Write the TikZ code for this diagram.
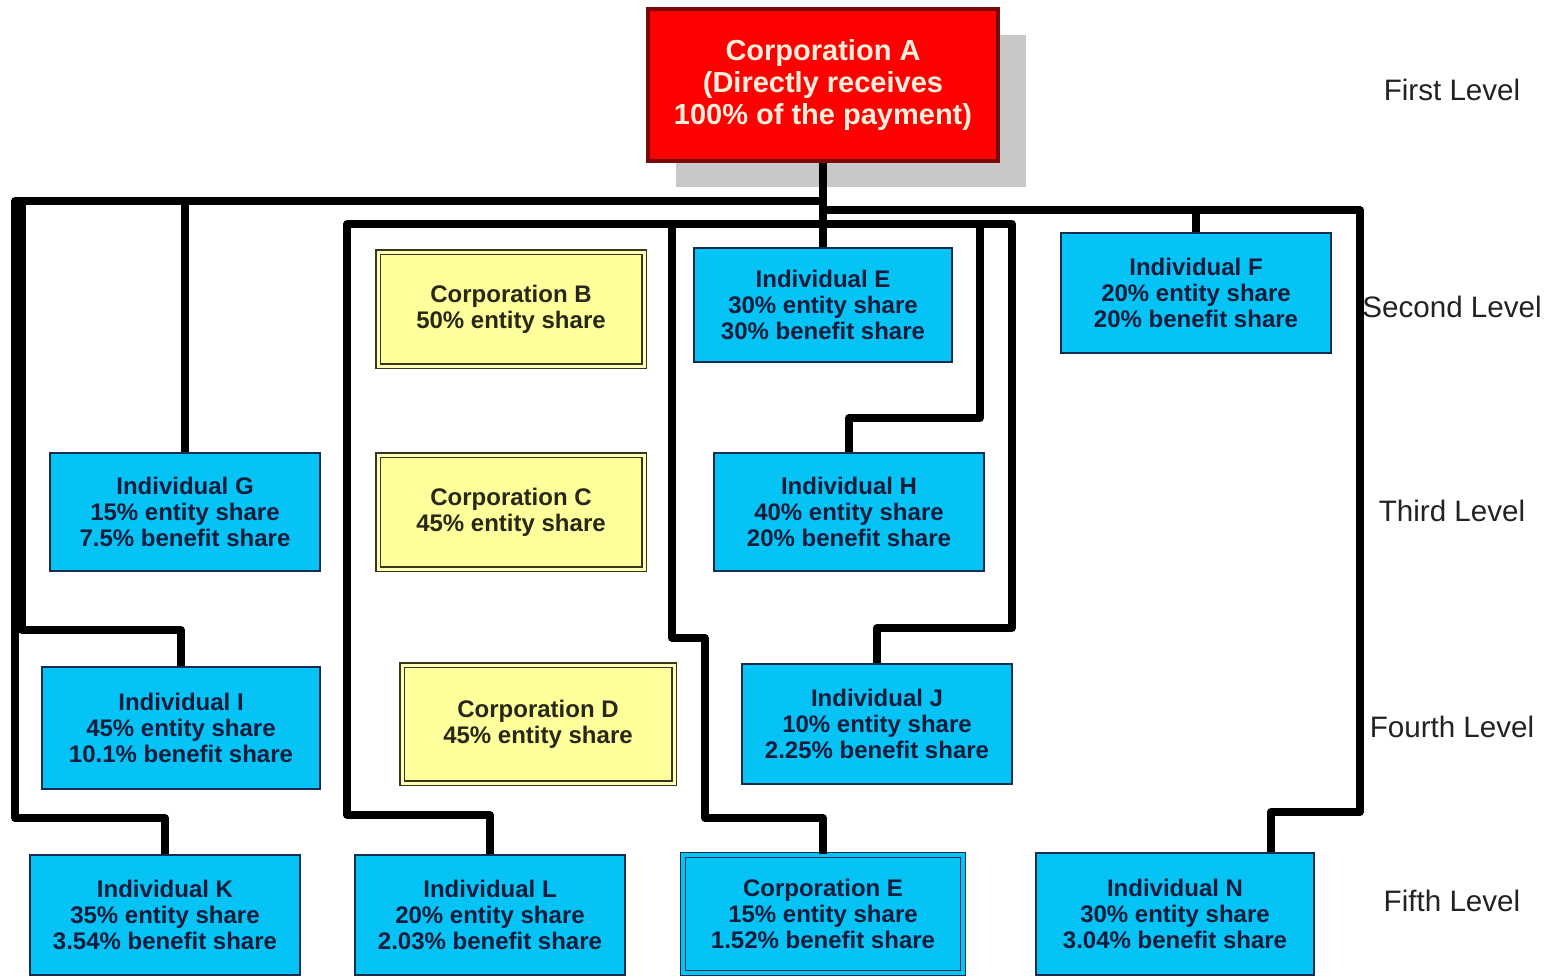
\documentclass[tikz,border=0pt]{standalone}
\usepackage{fontspec}
\setmainfont{Liberation Sans}
\usetikzlibrary{calc}
\usetikzlibrary{shadows}
\definecolor{boxblue}{RGB}{5,196,245}
\definecolor{boxnavy}{RGB}{20,45,80}
\definecolor{boxtext}{RGB}{15,28,60}
\definecolor{corpyellow}{RGB}{255,255,155}
\definecolor{corpolive}{RGB}{55,55,25}
\definecolor{corptext}{RGB}{40,40,20}
\definecolor{corpred}{RGB}{255,0,0}
\definecolor{darkred}{RGB}{120,10,10}
\definecolor{atext}{RGB}{255,238,220}
\definecolor{shadowgray}{RGB}{200,200,200}
\definecolor{leveltext}{RGB}{35,35,35}
\tikzstyle{indiv}=[draw=boxnavy,line width=0.9pt,fill=boxblue,text=boxtext,align=center,inner sep=0pt,
  minimum width=135pt,minimum height=59pt,font=\bfseries\fontsize{12}{13}\selectfont]
\tikzstyle{corp}=[draw=corpolive,line width=0.9pt,double=corpyellow!70!white,double distance=1.5pt,fill=corpyellow,
  text=corptext,align=center,inner sep=0pt,minimum width=133pt,minimum height=57pt,font=\bfseries\fontsize{12}{13}\selectfont]
\tikzstyle{corptop}=[draw=darkred,line width=1.8pt,fill=corpred,text=atext,align=center,inner sep=0pt,
  minimum width=175pt,minimum height=76pt,font=\bfseries\fontsize{14.5}{16}\selectfont,
  drop shadow={shadow xshift=14pt,shadow yshift=-13pt,fill=shadowgray,opacity=1}]
\tikzstyle{level}=[text=leveltext,font=\fontsize{14.8}{16}\selectfont,inner sep=0pt]
\tikzstyle{link}=[line width=3.8pt,line join=round,draw=black]

\begin{document}
\begin{tikzpicture}[x=0.5pt,y=-0.5pt]
	\useasboundingbox[fill=white] (0,0) rectangle (1551,976);

	% boxes
	\node[corptop] (A) at (823,85) {Corporation A\\(Directly receives\\100\% of the payment)};

	\node[corp] (B) at (511,309) {Corporation B\\50\% entity share};
	\node[corp] (C) at (511,512) {Corporation C\\45\% entity share};
	\node[corp,minimum width=136pt,minimum height=59pt] (D) at (538,724) {Corporation D\\45\% entity share};

	\node[indiv,minimum width=129pt,minimum height=57pt] (E) at (823,305) {Individual E\\30\% entity share\\30\% benefit share};
	\node[indiv,minimum height=60pt] (F) at (1196,293) {Individual F\\20\% entity share\\20\% benefit share};
	\node[indiv] (G) at (185,512) {Individual G\\15\% entity share\\7.5\% benefit share};
	\node[indiv] (H) at (849,512) {Individual H\\40\% entity share\\20\% benefit share};
	\node[indiv,minimum width=139pt,minimum height=61pt] (I) at (181,728) {Individual I\\45\% entity share\\10.1\% benefit share};
	\node[indiv,minimum height=60pt] (J) at (877,724) {Individual J\\10\% entity share\\2.25\% benefit share};

	\node[indiv,minimum height=60pt] (K) at (165,915) {Individual K\\35\% entity share\\3.54\% benefit share};
	\node[indiv,minimum height=60pt] (L) at (490,915) {Individual L\\20\% entity share\\2.03\% benefit share};
	\node[indiv,double=boxblue,double distance=1.6pt,line width=0.9pt,minimum width=140pt,minimum height=59pt] (CE) at (823,914) {Corporation E\\15\% entity share\\1.52\% benefit share};
	\node[indiv,minimum width=139pt,minimum height=61pt] (N) at (1175,914) {Individual N\\30\% entity share\\3.04\% benefit share};

	% level labels
	\node[level] (lvl1) at (1452,90) {First Level};
	\node[level] (lvl2) at (1452,307) {Second Level};
	\node[level] (lvl3) at (1452,511) {Third Level};
	\node[level] (lvl4) at (1452,727) {Fourth Level};
	\node[level] (lvl5) at (1452,901) {Fifth Level};

	% buses under Corporation A
	\coordinate (busL) at (823,201);
	\coordinate (busR) at (823,210);
	\coordinate (busM) at (823,224);

	\draw[link] (A.south) -- (E.north);
	\draw[link] (K.north) |- (15,818) |- (busL);
	\draw[link] (I.north) |- (22,630) |- (busL);
	\draw[link] (G.north) -- (G.north |- busL);
	\draw[link] (F.north) -- (F.north |- busR);
	\draw[link] ([xshift=-22pt]N.north east) |- (1360,812) |- (busR);
	\draw[link] (L.north) |- (347,815) |- (busM);
	\draw[link] (CE.north) |- (705,818) |- (672,638) |- (busM);
	\draw[link] (H.north) |- (980,418) |- (busM);
	\draw[link] (J.north) |- (1012,628) |- (busM);
\end{tikzpicture}
\end{document}
